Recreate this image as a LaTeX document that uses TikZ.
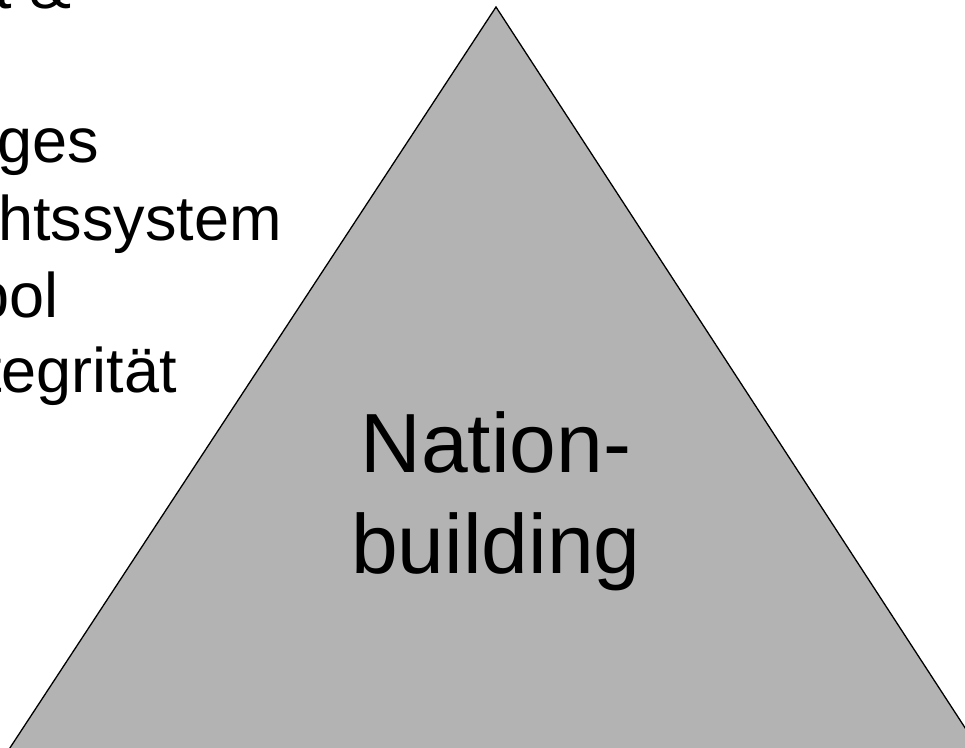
\documentclass[tikz,border=0pt]{standalone}
\usepackage{fontspec}
\setmainfont{Liberation Sans}
\definecolor{trigray}{RGB}{179,179,179}
\begin{document}
\begin{tikzpicture}[x=1pt,y=-1pt,
  lefttext/.style={inner sep=0pt,anchor=base east,font=\fontsize{63}{75}\selectfont},
  bigtext/.style={inner sep=0pt,anchor=base,font=\fontsize{84}{101}\selectfont}]
\useasboundingbox (0,0) rectangle (965,747);
\clip (0,0) rectangle (965,747);
\coordinate (apex) at (496,7);
\coordinate (bl) at (2,760);
\coordinate (br) at (986,760);
\filldraw[fill=trigray,draw=black,line width=1.3pt,line join=miter] (apex) -- (br) -- (bl) -- cycle;
\node[bigtext] (n1) at (496,472) {Nation-};
\node[bigtext] (n2) at (496,573) {building};
\node[lefttext] (l1) at (72,8) {t \&};
\node[lefttext] (l2) at (99,162) {ges};
\node[lefttext] (l3) at (282,240) {htssystem};
\node[lefttext] (l4) at (59,317) {pol};
\node[lefttext] (l5) at (177,392) {tegrität};
\end{tikzpicture}
\end{document}
